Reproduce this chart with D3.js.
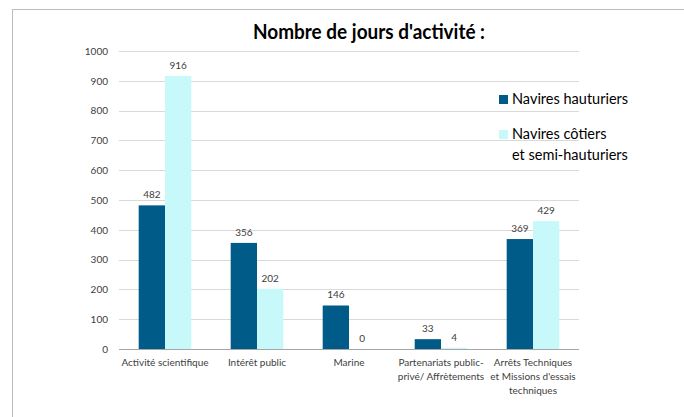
<!DOCTYPE html>
<html><head><meta charset="utf-8">
<script src="https://cdn.jsdelivr.net/npm/d3@7"></script>
<style>body{margin:0;background:#fff;}svg{display:block;font-family:Lato,"Open Sans",sans-serif;}</style>
</head><body>
<svg id="c" width="684" height="417"></svg>
<script>
const categories = [
  ["Activité scientifique"],
  ["Intérêt public"],
  ["Marine"],
  ["Partenariats public-", "privé/ Affrètements"],
  ["Arrêts Techniques", "et Missions d'essais", "techniques"]
];
const seriesNames = ["Navires hauturiers", "Navires côtiers et semi-hauturiers"];
const hauturiers = [482, 356, 146, 33, 369];
const cotiers = [916, 202, 0, 4, 429];
const yTicks = [0, 100, 200, 300, 400, 500, 600, 700, 800, 900, 1000];
const colors = ["#005b88", "#c7f9fb"];

(function(){
const svg = d3.select("#c");
// outer frame
svg.append("line").attr("x1",12).attr("x2",684).attr("y1",9.5).attr("y2",9.5).attr("stroke","#bcbcbc");
svg.append("line").attr("x1",12.5).attr("x2",12.5).attr("y1",9).attr("y2",417).attr("stroke","#bcbcbc");

const pl = 119, pr = 579, pt = 51, pb = 349;
const idx = categories.map((d,i)=>i);
const x = d3.scaleBand().domain(idx).range([pl,pr]).paddingInner(0).paddingOuter(0);
const y = d3.scaleLinear().domain([0,1000]).range([pb,pt]);
const barW = x.bandwidth() * 26.3/92;
const series = [hauturiers, cotiers];

// gridlines
svg.append("g").selectAll("line").data(yTicks.filter(t=>t>0)).join("line")
  .attr("x1",pl).attr("x2",pr)
  .attr("y1",d=>Math.round(y(d))+0.5).attr("y2",d=>Math.round(y(d))+0.5)
  .attr("stroke","#d9d9d9").attr("stroke-width",1);

// y axis labels
const yAxis = d3.axisLeft(y).tickValues(yTicks).tickFormat(d3.format("d")).tickSize(0).tickPadding(0);
const ga = svg.append("g").attr("transform",`translate(${108},0)`).call(yAxis);
ga.select(".domain").remove();
ga.selectAll("text").attr("font-size",10).attr("fill","#404040").attr("font-family","Lato, sans-serif");

// bars
series.forEach((vals,s)=>{
  const g = svg.append("g");
  g.selectAll("rect").data(vals).join("rect")
    .attr("x",(d,i)=>x(i)+x.bandwidth()/2 - barW + s*barW)
    .attr("width",barW)
    .attr("y",d=>y(d))
    .attr("height",d=>pb-y(d))
    .attr("fill",colors[s]);
  g.selectAll("text").data(vals).join("text")
    .attr("x",(d,i)=>x(i)+x.bandwidth()/2 - barW/2 + s*barW)
    .attr("y",d=>y(d)-7)
    .attr("text-anchor","middle").attr("font-size",10).attr("fill","#404040")
    .text(d=>d);
});

// x axis line
svg.append("line").attr("x1",pl).attr("x2",pr).attr("y1",pb+0.5).attr("y2",pb+0.5).attr("stroke","#a6a6a6");

// x labels
const xl = svg.append("g");
categories.forEach((lines,i)=>{
  const t = xl.append("text").attr("text-anchor","middle").attr("font-size",10).attr("fill","#404040");
  lines.forEach((ln,j)=>{
    t.append("tspan").attr("x",x(i)+x.bandwidth()/2).attr("y",366+j*14).text(ln);
  });
});

// title
svg.append("text").attr("x",253).attr("y",39)
  .attr("font-size",20.5).attr("font-weight","bold").attr("fill","#000")
  .attr("textLength",232).attr("lengthAdjust","spacingAndGlyphs")
  .text("Nombre de jours d'activité :");

// legend
const leg = svg.append("g");
leg.append("rect").attr("x",499).attr("y",95).attr("width",9).attr("height",9).attr("fill",colors[0]);
leg.append("text").attr("x",512).attr("y",104).attr("font-size",14.5).attr("fill","#000").text(seriesNames[0]);
leg.append("rect").attr("x",499).attr("y",130).attr("width",9).attr("height",9).attr("fill",colors[1]);
const lt = leg.append("text").attr("font-size",14.5).attr("fill","#000");
lt.append("tspan").attr("x",512).attr("y",139).text("Navires côtiers");
lt.append("tspan").attr("x",512).attr("y",160).text("et semi-hauturiers");
})();
</script>
</body></html>
